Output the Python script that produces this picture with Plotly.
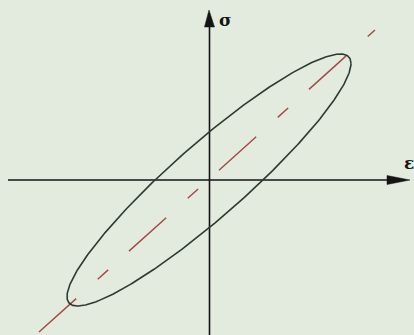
import numpy as np
import plotly.graph_objects as go

# Hysteresis loop parameters (strain amplitude, stress amplitude, phase lag in rad)
strain_amplitude = 1.42
stress_amplitude = 1.26
phase_lag = 0.39

# Mean stress-strain line (dashed)
mean_line_strain = [-1.70, 1.66]
mean_line_stress = [-1.52, 1.50]

# Axis extents
x_range = [-2.09, 2.05]
y_range = [-1.55, 1.80]

bg = "rgb(227,235,223)"
axis_color = "#141414"

t = np.linspace(0, 2 * np.pi, 400)
loop_strain = strain_amplitude * np.cos(t)
loop_stress = stress_amplitude * np.cos(t - phase_lag)

fig = go.Figure()

fig.add_trace(go.Scatter(
    x=mean_line_strain, y=mean_line_stress, mode="lines",
    line=dict(color="rgb(165,75,75)", width=1.5, dash="50px,29px,14px,28px"),
    hoverinfo="skip", showlegend=False,
))

fig.add_trace(go.Scatter(
    x=loop_strain, y=loop_stress, mode="lines",
    line=dict(color="rgb(45,58,50)", width=1.6),
    hoverinfo="skip", showlegend=False,
))

# Axes lines
fig.add_shape(type="line", x0=-2.01, y0=0, x1=1.85, y1=0,
              line=dict(color=axis_color, width=1.6), layer="below")
fig.add_shape(type="line", x0=0.005, y0=-1.6, x1=0.005, y1=1.58,
              line=dict(color=axis_color, width=1.6), layer="below")

# Arrowheads
fig.add_shape(type="path",
              path="M 1.78,0.045 L 2.01,0 L 1.78,-0.045 Z",
              fillcolor=axis_color, line=dict(color=axis_color, width=0.5))
fig.add_shape(type="path",
              path="M -0.045,1.53 L 0.0,1.70 L 0.055,1.53 Z",
              fillcolor=axis_color, line=dict(color=axis_color, width=0.5))

# Axis labels
fig.add_annotation(x=0.165, y=1.605, text="<b>σ</b>", showarrow=False,
                   font=dict(family="DejaVu Serif", size=17, color=axis_color))
fig.add_annotation(x=1.995, y=0.17, text="<b>ε</b>", showarrow=False,
                   font=dict(family="DejaVu Serif", size=17, color=axis_color))

fig.update_layout(
    width=414, height=335,
    margin=dict(l=0, r=0, t=0, b=0),
    paper_bgcolor=bg, plot_bgcolor=bg,
    xaxis=dict(range=x_range, visible=False, fixedrange=True),
    yaxis=dict(range=y_range, visible=False, fixedrange=True),
    showlegend=False,
)

fig.write_html("out.html")
